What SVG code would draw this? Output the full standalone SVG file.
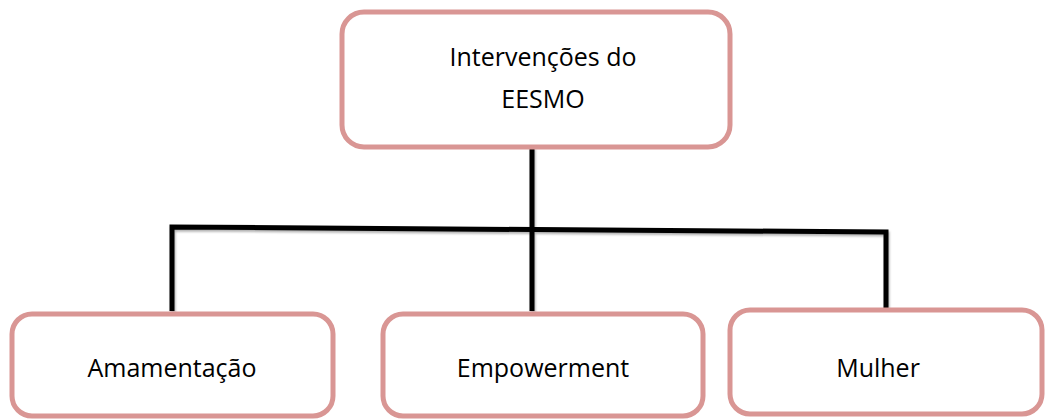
<svg xmlns="http://www.w3.org/2000/svg" width="1050" height="420" viewBox="0 0 1050 420">
  <defs>
    <filter id="sh" x="-10%" y="-10%" width="120%" height="130%">
      <feDropShadow dx="1" dy="2" stdDeviation="1.2" flood-color="#000" flood-opacity="0.3"/>
    </filter>
  </defs>
  <style>
    .box { fill: #ffffff; stroke: #D99694; stroke-width: 5; }
    .lbl { font-family: "Open Sans", "Noto Sans", sans-serif; font-size: 25px; fill: #000000; text-anchor: middle; }
    .con { fill: none; stroke: #000000; stroke-width: 5; stroke-linejoin: miter; stroke-linecap: butt; }
  </style>
  <rect width="1050" height="420" fill="#ffffff"/>
  <g id="connectors" filter="url(#sh)">
    <line class="con" x1="532" y1="147" x2="532" y2="311"/>
    <polyline class="con" points="172,311 172,227 886,232 886,308"/>
  </g>
  <g id="node-top">
    <rect class="box" x="342" y="12" width="388" height="135" rx="22" ry="22"/>
    <text class="lbl" x="543" y="66">Intervenções do</text>
    <text class="lbl" x="543" y="108">EESMO</text>
  </g>
  <g id="node-amamentacao">
    <rect class="box" x="12" y="314" width="321" height="102" rx="20" ry="20"/>
    <text class="lbl" x="172" y="377">Amamentação</text>
  </g>
  <g id="node-empowerment">
    <rect class="box" x="383" y="314" width="320" height="102" rx="20" ry="20"/>
    <text class="lbl" x="543" y="377">Empowerment</text>
  </g>
  <g id="node-mulher">
    <rect class="box" x="730" y="310" width="312" height="104" rx="20" ry="20"/>
    <text class="lbl" x="878" y="377">Mulher</text>
  </g>
</svg>
